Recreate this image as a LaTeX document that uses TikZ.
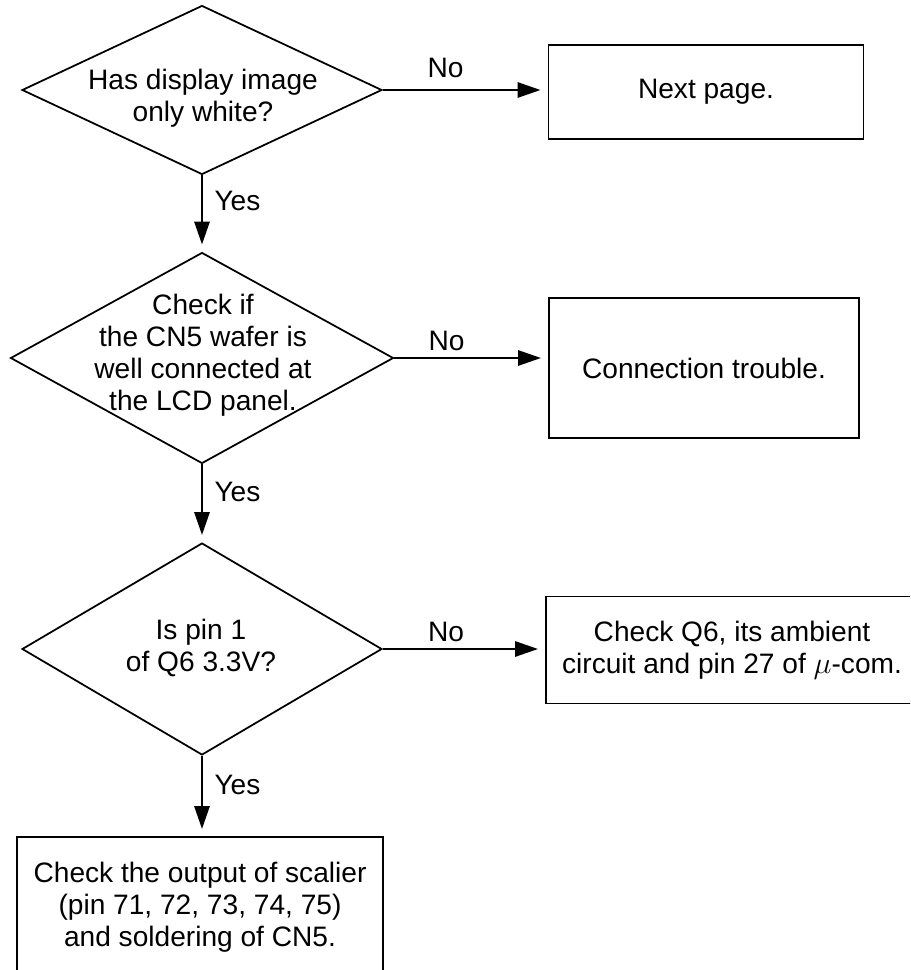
\documentclass[tikz,border=0pt]{standalone}
\usepackage{fontspec}
\setmainfont{Liberation Sans}
\usetikzlibrary{shapes.geometric, arrows.meta}

\tikzset{
  decision/.style = {diamond, draw, line width=1pt, inner sep=0pt},
  outcome/.style = {rectangle, draw, line width=1pt, inner sep=0pt, align=center},
  txt/.style = {inner sep=0pt, align=center},
  flow/.style = {line width=1.6pt, -{Triangle[length=0.46cm, width=0.3cm]}, shorten >=4pt}
}

\begin{document}
\begin{tikzpicture}[x=0.02cm, y=-0.02cm, font=\fontsize{16}{18.2}\selectfont]
\useasboundingbox (0,0) rectangle (910,970);
\clip (0,0) rectangle (910,970);

\node[decision, minimum width=7.2cm, minimum height=3.38cm] (q1) at (202,90) {};
\node[txt] (q1t) at (203,98) {Has display image\\only white?};
\node[decision, minimum width=7.66cm, minimum height=4.22cm] (q2) at (202,358) {};
\node[txt] (q2t) at (203,355) {Check if\\the CN5 wafer is\\well connected at\\the LCD panel.};
\node[decision, minimum width=7.2cm, minimum height=4.24cm] (q3) at (202,649) {};
\node[txt] (q3t) at (201,648) {Is pin 1\\of Q6 3.3V?};

\node[outcome, minimum width=6.3cm, minimum height=1.88cm] (b1) at (706,92) {Next page.};
\node[outcome, minimum width=6.2cm, minimum height=2.8cm] (b2) at (704,368) {Connection trouble.};
\node[outcome, minimum width=7.44cm, minimum height=2.14cm] (b3) at (732,650) {Check Q6, its ambient\\circuit and pin 27 of $\mu$-com.};
\node[outcome, minimum width=7.32cm, minimum height=2.8cm] (b4) at (200,907) {Check the output of scalier\\(pin 71, 72, 73, 74, 75)\\and soldering of CN5.};

\draw[flow] (q1.east) -- (q1.east -| b1.west) node[pos=0.38, above=3pt] (no1) {No};
\draw[flow] (q2.east) -- (q2.east -| b2.west) node[pos=0.34, above] (no2) {No};
\draw[flow] (q3.east) -- (q3.east -| b3.west) node[pos=0.39, above] (no3) {No};

\draw[flow] (q1.south) -- (q2.north) node[pos=0.33, right=3pt] (yes1) {Yes};
\draw[flow] (q2.south) -- (q3.north) node[pos=0.35, right=3pt] (yes2) {Yes};
\draw[flow] (q3.south) -- (q3.south |- b4.north) node[pos=0.36, right=3pt] (yes3) {Yes};
\end{tikzpicture}
\end{document}
